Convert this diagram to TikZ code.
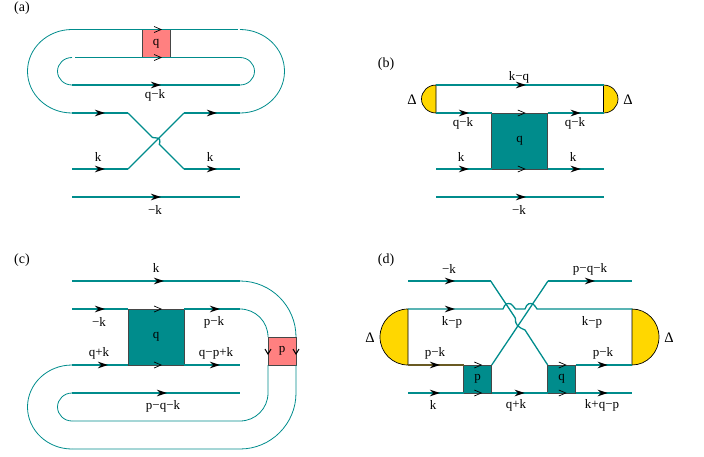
\documentclass[tikz,border=0pt]{standalone}
\usepackage{fontspec}
\setmainfont{Liberation Serif}
\usetikzlibrary{arrows.meta, decorations.markings}
\definecolor{lineteal}{RGB}{0,140,140}
\definecolor{boxteal}{RGB}{0,140,140}
\definecolor{boxpink}{RGB}{255,128,128}
\definecolor{capgold}{RGB}{255,215,0}
\definecolor{edgegray}{RGB}{70,70,70}
\definecolor{lineolive}{RGB}{105,90,35}
\tikzset{
  fline/.style={draw=lineteal, line width=1.3pt},
  floop/.style={draw=lineteal, line width=0.8pt},
  arr/.style={postaction={decorate, decoration={markings, mark=at position #1pt with {\arrow[black]{Stealth[length=10pt, width=6.5pt]}}}}},
  oarr/.style={postaction={decorate, decoration={markings, mark=at position #1pt with {\arrow[black, line width=0.7pt]{Straight Barb[length=7pt, width=6pt]}}}}},
  varr/.style={postaction={decorate, decoration={markings, mark=at position #1pt with {\arrow[black, line width=1pt]{Straight Barb[length=5pt, width=6pt]}}}}},
  lbl/.style={font=\fontsize{13}{15}\selectfont, inner sep=0pt},
  tag/.style={font=\fontsize{14}{16}\selectfont, inner sep=0pt},
  dlt/.style={font=\fontsize{14.5}{16}\selectfont, inner sep=0pt},
  pinkbox/.style={draw=edgegray, fill=boxpink, line width=1pt, minimum width=28pt, minimum height=28pt, inner sep=0pt, outer sep=0pt, font=\fontsize{13}{15}\selectfont},
  tealbox/.style={draw=edgegray, fill=boxteal, line width=1pt, minimum width=#1pt, minimum height=#1pt, inner sep=0pt, outer sep=0pt, font=\fontsize{13}{15}\selectfont},
  capfill/.style={draw=black, fill=capgold, line width=0.7pt}
}
\begin{document}
\begin{tikzpicture}[x=1pt, y=-1pt]
  \useasboundingbox (0,0) rectangle (704,456);

  \foreach \n/\y in {1/29.5, 2/57.5, 3/85, 4/113, 5/169, 6/197} {
    \coordinate (aL\n) at (72,\y);
    \coordinate (aR\n) at (240,\y);
  }
  \node[tag] (taga) at (22,8) {(a)};
  \node[pinkbox] (qa) at (156,43.5) {q};
  \coordinate (aX1) at (128,113);
  \coordinate (aX2) at (184,169);
  \coordinate (aX3) at (128,169);
  \coordinate (aX4) at (184,113);
  \coordinate (aGap1) at (238,29.5);
  \coordinate (aGap2) at (75,57.5);
  \draw[floop, oarr=90] (aL1) -- (aGap1);
  \draw[floop, oarr=87] (aGap2) -- (aR2);
  \draw[floop] (aL1) arc[start angle=270, end angle=90, x radius=44.5, y radius=41.75];
  \draw[floop] (aR1) arc[start angle=-90, end angle=90, x radius=44.5, y radius=41.75];
  \draw[floop] (aL2) arc[start angle=270, end angle=90, x radius=14.5, y radius=13.75];
  \draw[floop] (aR2) arc[start angle=-90, end angle=90, x radius=14.5, y radius=13.75];
  \draw[fline, arr=89] (aL3) -- (aR3);
  \draw[fline, arr=33] (aL4) -- (aX1);
  \draw[fline, arr=33] (aX4) -- (aR4);
  \draw[fline] (aX1) -- (152.5,137.5) -- (157,138) .. controls (160,138) and (160.5,141) .. (159.3,144.3) -- (aX2);
  \draw[fline] (aX3) -- (aX4);
  \draw[fline, arr=33] (aL5) -- (aX3);
  \draw[fline, arr=33] (aX2) -- (aR5);
  \draw[fline, arr=89] (aL6) -- (aR6);
  \node[lbl] (aqk) at (155,95) {q−k};
  \node[lbl] (akl) at (98,157) {k};
  \node[lbl] (akr) at (210,157) {k};
  \node[lbl] (amk) at (155,210) {−k};

  \foreach \n/\y in {1/85, 2/113, 3/169, 4/197} {
    \coordinate (bL\n) at (436,\y);
    \coordinate (bR\n) at (603.5,\y);
  }
  \node[tag] (tagb) at (386,64) {(b)};
  \node[tealbox=56] (qb) at (519.7,141) {q};
  \draw[capfill] (bL1) arc[start angle=270, end angle=90, x radius=14.5, y radius=14] -- cycle;
  \draw[capfill] (bR1) arc[start angle=-90, end angle=90, x radius=14.5, y radius=14] -- cycle;
  \draw[fline, arr=90] (bL1) -- (bR1);
  \draw[fline, arr=33] (bL2) -- (qb.north west);
  \draw[fline, arr=33] (qb.north east) -- (bR2);
  \draw[fline, arr=33] (bL3) -- (qb.south west);
  \draw[fline, arr=33] (qb.south east) -- (bR3);
  \draw[fline, arr=90] (bL4) -- (bR4);
  \path[oarr=34] (qb.north west) -- (qb.north east);
  \path[oarr=34] (qb.south west) -- (qb.south east);
  \node[lbl] (bkq) at (519,77) {k−q};
  \node[lbl] (bqkl) at (463,123) {q−k};
  \node[lbl] (bqkr) at (575,123) {q−k};
  \node[lbl] (bkl) at (461,157) {k};
  \node[lbl] (bkr) at (573,157) {k};
  \node[lbl] (bmk) at (519,210) {−k};
  \node[dlt] (bdl) at (412,100) {Δ};
  \node[dlt] (bdr) at (628,100) {Δ};

  \foreach \n/\y in {1/281, 2/309, 3/365, 4/393, 5/421, 6/449} {
    \coordinate (cL\n) at (72,\y);
    \coordinate (cR\n) at (240,\y);
  }
  \node[tag] (tagc) at (22,260) {(c)};
  \node[tealbox=56] (qc) at (156,337) {q};
  \node[pinkbox] (pc) at (282,351) {p};
  \draw[fline, arr=92] (cL1) -- (cR1);
  \draw[fline, arr=33] (cL2) -- (qc.north west);
  \draw[fline, arr=36] (qc.north east) -- (cR2);
  \draw[fline, arr=36] (cL3) -- (qc.south west);
  \draw[fline, arr=36] (qc.south east) -- (cR3);
  \draw[fline, arr=95] (cL4) -- (cR4);
  \path[oarr=34] (qc.north west) -- (qc.north east);
  \path[oarr=34] (qc.south west) -- (qc.south east);
  \draw[floop] (cR1) arc[start angle=-90, end angle=0, radius=56] -- (pc.north east);
  \draw[floop] (cR2) arc[start angle=-90, end angle=0, radius=28] -- (pc.north west);
  \draw[floop] (pc.south east) -- (296,393) arc[start angle=0, end angle=90, radius=56] -- (cL6);
  \draw[floop] (pc.south west) -- (268,393) arc[start angle=0, end angle=90, radius=28] -- (cL5);
  \draw[floop] (cL3) arc[start angle=270, end angle=90, x radius=44.5, y radius=42];
  \draw[floop] (cL4) arc[start angle=270, end angle=90, x radius=14.5, y radius=14];
  \path[varr=18] (pc.north west) -- (pc.south west);
  \path[varr=18] (pc.north east) -- (pc.south east);
  \node[lbl] (ck) at (156,268) {k};
  \node[lbl] (cmk) at (99,322) {−k};
  \node[lbl] (cpk) at (214,322) {p−k};
  \node[lbl] (cqk) at (99,353) {q+k};
  \node[lbl] (cqpk) at (216,353) {q−p+k};
  \node[lbl] (cpqk) at (163,406) {p−q−k};

  \foreach \n/\y in {1/281, 2/309, 3/365, 4/393} {
    \coordinate (dL\n) at (408,\y);
    \coordinate (dR\n) at (632,\y);
  }
  \node[tag] (tagd) at (386,260) {(d)};
  \node[tealbox=28] (pd) at (477.7,379) {p};
  \node[tealbox=28] (qd) at (561.7,379) {q};
  \coordinate (dX1) at (490.7,281);
  \coordinate (dX2) at (548,281);
  \draw[capfill] (dL2) arc[start angle=270, end angle=90, x radius=28, y radius=28] -- cycle;
  \draw[capfill] (dR2) arc[start angle=-90, end angle=90, x radius=27, y radius=28] -- cycle;
  \draw[fline, arr=47] (dL1) -- (dX1);
  \draw[fline, arr=47] (dX2) -- (dR1);
  \draw[fline, arr=47] (dL2) -- (503,309) .. controls (505,303) and (508,303) .. (511,304) .. controls (513,305) and (514,308) .. (515.5,309) -- (525,309) .. controls (527,303) and (530,303) .. (533,304) .. controls (535,305) and (536,308) .. (537,309) -- (dR2);
  \draw[fline] (dX1) -- (515.3,318) .. controls (515,325) and (518,327) .. (525,330) -- (qd.north west);
  \draw[fline] (pd.north east) -- (dX2);
  \draw[fline, draw=lineolive, arr=32] (dL3) -- (pd.north west);
  \draw[fline, arr=32] (qd.north east) -- (dR3);
  \draw[fline, arr=32] (dL4) -- (pd.south west);
  \draw[fline, arr=33] (pd.south east) -- (qd.south west);
  \draw[fline, arr=32] (qd.south east) -- (dR4);
  \path[oarr=18.5] (pd.north west) -- (pd.north east);
  \path[oarr=18.5] (pd.south west) -- (pd.south east);
  \path[oarr=19] (qd.north west) -- (qd.north east);
  \path[oarr=19] (qd.south west) -- (qd.south east);
  \node[lbl] (dmk) at (449,269) {−k};
  \node[lbl] (dpqk) at (590,269) {p−q−k};
  \node[lbl] (dkpl) at (452,322) {k−p};
  \node[lbl] (dkpr) at (592,322) {k−p};
  \node[lbl] (dpkl) at (435,353) {p−k};
  \node[lbl] (dpkr) at (603,353) {p−k};
  \node[lbl] (dk) at (433,405) {k};
  \node[lbl] (dqk) at (516,405) {q+k};
  \node[lbl] (dkqp) at (602,405) {k+q−p};
  \node[dlt] (ddl) at (370,338) {Δ};
  \node[dlt] (ddr) at (669,338) {Δ};
\end{tikzpicture}
\end{document}
